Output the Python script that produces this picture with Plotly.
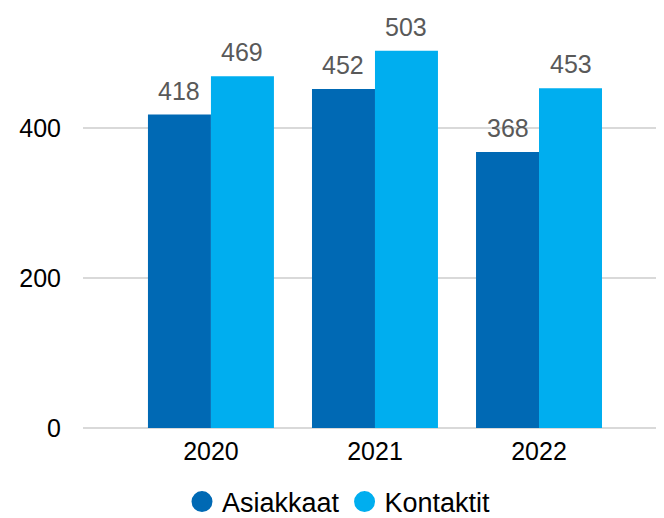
import plotly.graph_objects as go

years = ["2020", "2021", "2022"]
asiakkaat = [418, 452, 368]
kontaktit = [469, 503, 453]
series_names = ["Asiakkaat", "Kontaktit"]
y_ticks = [0, 200, 400]

colors = ["#0069B4", "#00AEEF"]
font = "Liberation Sans, Arial, sans-serif"

fig = go.Figure()
for name, vals, col in zip(series_names, [asiakkaat, kontaktit], colors):
    fig.add_trace(go.Bar(
        x=years, y=vals, name=name, marker_color=col, marker_line_width=0,
        showlegend=False,
    ))
for name, col in zip(series_names, colors):
    fig.add_trace(go.Scatter(
        x=[None], y=[None], mode="markers", name=name,
        marker=dict(symbol="circle", size=16, color=col, line=dict(color=col, width=5)),
    ))

# data labels above the bars (category index used as x position)
for vals, shift in zip([asiakkaat, kontaktit], [-31.5, 31.5]):
    for i, v in enumerate(vals):
        fig.add_annotation(x=i, y=v, xref="x", yref="y", text=str(v), showarrow=False,
                           xshift=shift, yshift=24, yanchor="middle",
                           font=dict(color="#595959", size=25, family=font))

# the page has an 8px body margin, so the figure is sized to fit the window
W, H = 656, 510
L, B = 75, 90
plot_w = W - L
plot_h = H - B

fig.update_layout(
    width=W, height=H,
    margin=dict(l=L, r=0, t=0, b=B, autoexpand=False),
    paper_bgcolor="white", plot_bgcolor="white",
    barmode="group", bargap=0.232, bargroupgap=0,
    font=dict(family=font, size=25, color="#000000"),
    showlegend=True,
    legend=dict(orientation="h", x=(331 - L) / plot_w, xanchor="center",
                y=(plot_h - 494) / plot_h, yanchor="middle",
                font=dict(size=27, color="#000000")),
    xaxis=dict(type="category", range=[-0.780, 2.762], showgrid=False,
               showline=False, ticks="", tickfont=dict(size=25),
               ticklabelstandoff=6, automargin=False),
    yaxis=dict(range=[0, plot_h / 0.75], tickvals=y_ticks, showgrid=True, gridcolor="#D9D9D9",
               gridwidth=2, zeroline=True, zerolinecolor="#D9D9D9", zerolinewidth=2,
               showline=False, ticks="", ticklabelstandoff=21, tickfont=dict(size=25),
               automargin=False),
)

fig.write_html("out.html")
